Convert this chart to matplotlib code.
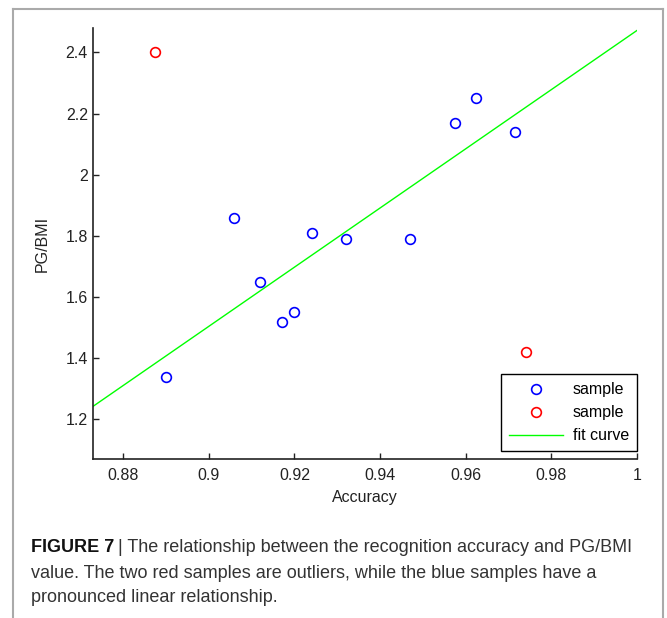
import matplotlib.pyplot as plt
from matplotlib.lines import Line2D

plt.rcParams['font.family'] = ['Liberation Sans', 'DejaVu Sans']

# blue samples (linear group)
blue_x = [0.890, 0.906, 0.912, 0.917, 0.920, 0.924, 0.932, 0.947, 0.9575, 0.9625, 0.9715]
blue_y = [1.34, 1.86, 1.65, 1.52, 1.55, 1.81, 1.79, 1.79, 2.17, 2.25, 2.14]

# red samples (outliers)
red_x = [0.8875, 0.974]
red_y = [2.40, 1.42]

# fitted line end points
fit_x = [0.8729, 1.0]
fit_y = [1.242, 2.472]

x_ticks = [0.88, 0.9, 0.92, 0.94, 0.96, 0.98, 1.0]
x_labels = ['0.88', '0.9', '0.92', '0.94', '0.96', '0.98', '1']
y_ticks = [1.2, 1.4, 1.6, 1.8, 2.0, 2.2, 2.4]
y_labels = ['1.2', '1.4', '1.6', '1.8', '2', '2.2', '2.4']

fig = plt.figure(figsize=(6.67, 6.18), dpi=100)
ax = fig.add_axes([0.139, 0.2565, 0.816, 0.6982])

ax.plot(blue_x, blue_y, 'o', ls='none', mfc='none', mec=(0, 0, 1), ms=7, mew=1.2, label='sample')
ax.plot(red_x, red_y, 'o', ls='none', mfc='none', mec=(1, 0, 0), ms=7, mew=1.2, label='sample')
ax.plot(fit_x, fit_y, color=(0, 1, 0), lw=1.0, label='fit curve')

ax.set_xlim(0.8729, 1.0)
ax.set_ylim(1.069, 2.48)
ax.set_xticks(x_ticks)
ax.set_xticklabels(x_labels)
ax.set_yticks(y_ticks)
ax.set_yticklabels(y_labels)
ax.tick_params(direction='in', length=4, width=1, labelsize=11.5, colors='#222222')
ax.tick_params(axis='x', pad=6)
ax.spines['top'].set_visible(False)
ax.spines['right'].set_visible(False)
for s in ('left', 'bottom'):
    ax.spines[s].set_linewidth(1.2)
    ax.spines[s].set_color('#222222')

ax.set_xlabel('Accuracy', fontsize=11.5, color='#222222', labelpad=5)
ax.set_ylabel('PG/BMI', fontsize=11.5, color='#222222', labelpad=11)

leg = ax.legend(loc='lower right', bbox_to_anchor=(1.0, 0.019), fontsize=11.5,
                fancybox=False, framealpha=1, edgecolor='black', borderaxespad=0,
                handlelength=3.4, borderpad=0.5, labelspacing=0.5, handletextpad=0.6)
leg.get_frame().set_linewidth(1.0)

# outer frame of the figure panel
frame_color = '#aaaaaa'
fig.add_artist(Line2D([0.0195, 0.0195], [0.0, 0.9854], color=frame_color, lw=1.5))
fig.add_artist(Line2D([0.0195, 0.994], [0.9854, 0.9854], color=frame_color, lw=1.5))
fig.add_artist(Line2D([0.994, 0.994], [0.0, 0.9854], color=frame_color, lw=1.5))

# caption
cap_x = 31 / 667
cap_size = 13
head = fig.text(cap_x, 1 - 547 / 618, 'FIGURE 7', fontsize=cap_size, fontweight='bold',
                color='#111111', va='center')
fig.canvas.draw()
bb = head.get_window_extent().transformed(fig.transFigure.inverted())
fig.text(bb.x1 + 4 / 667, 1 - 547 / 618,
         '| The relationship between the recognition accuracy and PG/BMI',
         fontsize=cap_size, color='#333333', va='center')
fig.text(cap_x, 1 - 573 / 618,
         'value. The two red samples are outliers, while the blue samples have a',
         fontsize=cap_size, color='#333333', va='center')
fig.text(cap_x, 1 - 598 / 618, 'pronounced linear relationship.',
         fontsize=cap_size, color='#333333', va='center')

fig.savefig('out.png', dpi=100)
